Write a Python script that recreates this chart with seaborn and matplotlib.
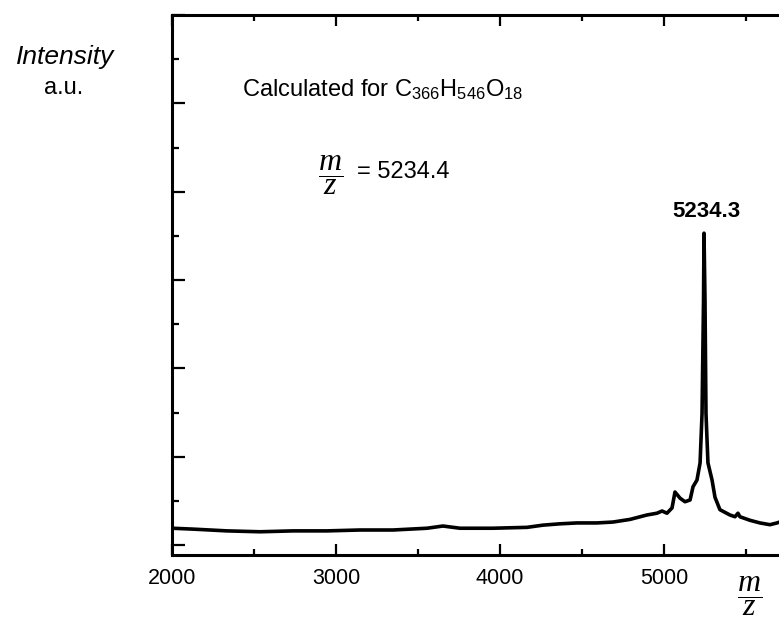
import numpy as np
import pandas as pd
import matplotlib
matplotlib.use('Agg')
import matplotlib.pyplot as plt
from matplotlib.ticker import MultipleLocator, NullFormatter
import seaborn as sns

# Spectrum (m/z, intensity in a.u.)
mz = [2000, 2128, 2335, 2537, 2738, 2945, 3146, 3348, 3555, 3652, 3756, 3957,
      4165, 4262, 4366, 4470, 4591, 4689, 4793, 4896, 4957, 4988, 5018, 5049,
      5067, 5098, 5128, 5159, 5177, 5201, 5220, 5232, 5241, 5244, 5250, 5256,
      5268, 5293, 5311, 5341, 5402, 5433, 5451, 5463, 5524, 5585, 5646, 5689, 5720]
intensity = [0.19, 0.18, 0.16, 0.15, 0.16, 0.16, 0.17, 0.17, 0.19, 0.215, 0.19, 0.19,
             0.20, 0.225, 0.24, 0.25, 0.25, 0.26, 0.29, 0.34, 0.36, 0.385, 0.36, 0.42,
             0.60, 0.53, 0.49, 0.51, 0.66, 0.735, 0.93, 1.49, 2.77, 3.53, 2.77, 1.49,
             0.93, 0.735, 0.54, 0.40, 0.34, 0.32, 0.36, 0.32, 0.28, 0.25, 0.23, 0.25, 0.27]

peak_label = '5234.3'
calc_label = 'Calculated for C$_{366}$H$_{546}$O$_{18}$'
calc_value = '= 5234.4'
xticks = [2000, 3000, 4000, 5000]

df = pd.DataFrame({'mz': mz, 'intensity': intensity})

sns.set_style('ticks')
plt.rcParams['font.family'] = ['Liberation Sans', 'DejaVu Sans']
plt.rcParams['mathtext.fontset'] = 'custom'
plt.rcParams['mathtext.rm'] = 'Liberation Sans'
plt.rcParams['mathtext.it'] = 'Liberation Serif:italic'
plt.rcParams['text.color'] = 'black'
plt.rcParams['axes.edgecolor'] = 'black'
plt.rcParams['xtick.color'] = 'black'
plt.rcParams['ytick.color'] = 'black'

W, H = 779, 622
fig = plt.figure(figsize=(W / 100, H / 100), dpi=100)
ax = fig.add_axes([172 / W, 1 - 555 / H, (W - 172) / W, 540 / H])

sns.lineplot(data=df, x='mz', y='intensity', ax=ax, color='black', lw=2.6)

ax.set_xlim(2000, 2000 + (W - 172) * 1000 / 164)
ax.set_ylim(-0.113, 6.0)
ax.spines['right'].set_visible(False)
for s in ['left', 'top', 'bottom']:
    ax.spines[s].set_linewidth(2.2)

ax.set_xticks(xticks)
ax.xaxis.set_minor_locator(MultipleLocator(500))
ax.yaxis.set_major_locator(MultipleLocator(1))
ax.yaxis.set_minor_locator(MultipleLocator(0.5))
ax.yaxis.set_major_formatter(NullFormatter())
ax.tick_params(axis='x', which='both', direction='in', top=True, bottom=True,
               width=1.6, labelsize=15.5, pad=9)
ax.tick_params(axis='x', which='major', length=8)
ax.tick_params(axis='x', which='minor', length=4.5)
ax.tick_params(axis='y', which='both', direction='in', left=True, right=False, width=1.6)
ax.tick_params(axis='y', which='major', length=9)
ax.tick_params(axis='y', which='minor', length=5)
ax.set_xlabel('')
ax.set_ylabel('')

# peak label
i_max = int(np.argmax(intensity))
ax.annotate(peak_label, xy=(mz[i_max], intensity[i_max]), xytext=(2, 8),
            textcoords='offset points', ha='center', va='bottom',
            fontsize=16, fontweight='bold')

def px(x, y):
    return x / W, 1 - y / H

fig.text(*px(65, 57), 'Intensity', ha='center', va='center', fontsize=19, style='italic')
fig.text(*px(64, 88), 'a.u.', ha='center', va='center', fontsize=17)
fig.text(*px(242, 97), calc_label, ha='left', va='baseline', fontsize=17)
fig.text(*px(331, 175), r'$\dfrac{m}{z}$', ha='center', va='center', fontsize=23)
fig.text(*px(357, 172), calc_value, ha='left', va='center', fontsize=17)
fig.text(*px(750, 596), r'$\dfrac{m}{z}$', ha='center', va='center', fontsize=23)

fig.savefig('out.png', dpi=100)
